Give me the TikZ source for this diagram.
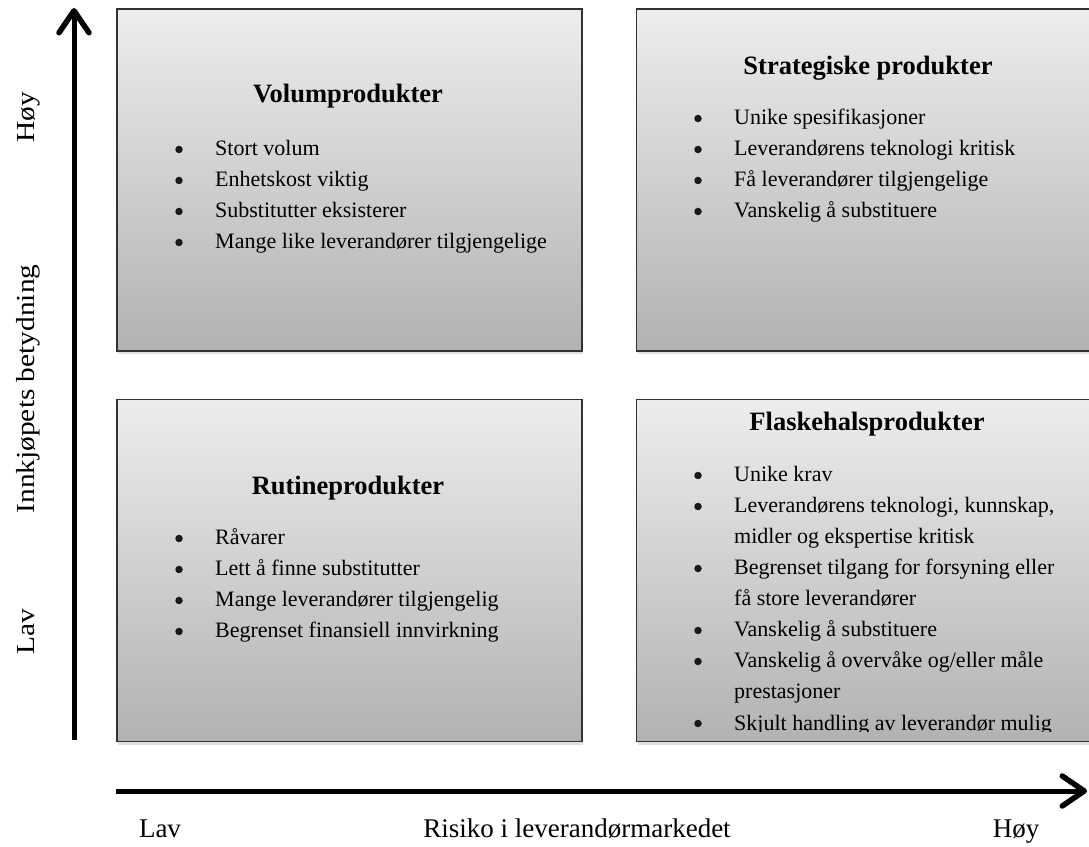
\documentclass[tikz,border=0pt]{standalone}
\usepackage{fontspec}
\setmainfont{Liberation Serif}
\usetikzlibrary{arrows.meta,shadows}
\definecolor{boxtop}{RGB}{237,237,237}
\definecolor{boxbot}{RGB}{178,178,178}
\definecolor{boxline}{RGB}{50,50,50}
\begin{document}
\begin{tikzpicture}[x=1pt,y=1pt,
  quad/.style={rectangle, draw=boxline, line width=1.6pt,
    top color=boxtop, bottom color=boxbot,
    minimum width=465pt, minimum height=342pt, inner sep=0pt,
    drop shadow={shadow xshift=1pt, shadow yshift=-3pt, opacity=0.25}},
  title/.style={anchor=base, inner sep=0pt,
    font=\fontsize{26.5pt}{30pt}\selectfont\bfseries},
  item/.style={anchor=base west, inner sep=0pt,
    font=\fontsize{22pt}{26pt}\selectfont},
  dot/.style={circle, fill=black!90, inner sep=0pt, minimum size=7.5pt,
    yshift=6.5pt},
  axislabel/.style={anchor=base, inner sep=0pt,
    font=\fontsize{27pt}{30pt}\selectfont},
  sidelabel/.style={axislabel, font=\fontsize{26pt}{30pt}\selectfont,
    rotate=90, xscale=1.13},
  axis/.style={line width=5pt,
    -{Straight Barb[length=22pt,width=30pt,line width=5.5pt,round]}},
]
\useasboundingbox (0,0) rectangle (1089,846);

% the four quadrants
\node[quad] (vol)  at (349.5,666) {};
\node[quad] (strat) at (869,666) {};
\node[quad] (rut)  at (349.5,275.5) {};
\node[quad] (flask) at (869,275.5) {};

% Volumprodukter
\node[title] (vol-title) at (348,743) {Volumprodukter};
\foreach \txt [count=\i] in {Stort volum, Enhetskost viktig,
    Substitutter eksisterer, Mange like leverandører tilgjengelige} {
  \node[dot]  (vol-b\i) at (179,{690-31*(\i-1)}) {};
  \node[item] (vol-t\i) at (215,{690-31*(\i-1)}) {\txt};
}

% Strategiske produkter
\node[title] (strat-title) at (868,771) {Strategiske produkter};
\foreach \txt [count=\i] in {Unike spesifikasjoner, Leverandørens teknologi kritisk,
    Få leverandører tilgjengelige, Vanskelig å substituere} {
  \node[dot]  (strat-b\i) at (698,{721-31*(\i-1)}) {};
  \node[item] (strat-t\i) at (734,{721-31*(\i-1)}) {\txt};
}

% Rutineprodukter
\node[title] (rut-title) at (348,351) {Rutineprodukter};
\foreach \txt [count=\i] in {Råvarer, Lett å finne substitutter,
    Mange leverandører tilgjengelig, Begrenset finansiell innvirkning} {
  \node[dot]  (rut-b\i) at (179,{301-31*(\i-1)}) {};
  \node[item] (rut-t\i) at (215,{301-31*(\i-1)}) {\txt};
}

% Flaskehalsprodukter (the list runs past the bottom of its box)
\node[title] (flask-title) at (867,415) {Flaskehalsprodukter};
\begin{scope}
  \clip (636,115) rectangle (1102,447);
  \node[dot]  (flask-b1) at (698,364) {};
  \node[item] (flask-t1) at (734,364) {Unike krav};
  \node[dot]  (flask-b2) at (698,333) {};
  \node[item] (flask-t2) at (734,333) {Leverandørens teknologi, kunnskap,};
  \node[item] (flask-t2b) at (734,302) {midler og ekspertise kritisk};
  \node[dot]  (flask-b3) at (698,271) {};
  \node[item] (flask-t3) at (734,271) {Begrenset tilgang for forsyning eller};
  \node[item] (flask-t3b) at (734,240) {få store leverandører};
  \node[dot]  (flask-b4) at (698,209) {};
  \node[item] (flask-t4) at (734,209) {Vanskelig å substituere};
  \node[dot]  (flask-b5) at (698,178) {};
  \node[item] (flask-t5) at (734,178) {Vanskelig å overvåke og/eller måle};
  \node[item] (flask-t5b) at (734,147) {prestasjoner};
  \node[dot]  (flask-b6) at (698,116) {};
  \node[item] (flask-t6) at (734,116) {Skjult handling av leverandør mulig};
\end{scope}

% axes
\coordinate (ystart) at (74,106);
\coordinate (yend)   at (74,838);
\draw[axis] (ystart) -- (yend);
\coordinate (xstart) at (116,55);
\coordinate (xend)   at (1087,55);
\draw[axis] (xstart) -- (xend);

% axis labels
\node[sidelabel] (ylow)  at (34,214) {Lav};
\node[sidelabel] (yname) at (34,457) {Innkjøpets betydning};
\node[sidelabel] (yhigh) at (34,729) {Høy};
\node[axislabel] (xlow)  at (160,9)  {Lav};
\node[axislabel] (xname) at (577,9)  {Risiko i leverandørmarkedet};
\node[axislabel] (xhigh) at (1016,9) {Høy};
\end{tikzpicture}
\end{document}
